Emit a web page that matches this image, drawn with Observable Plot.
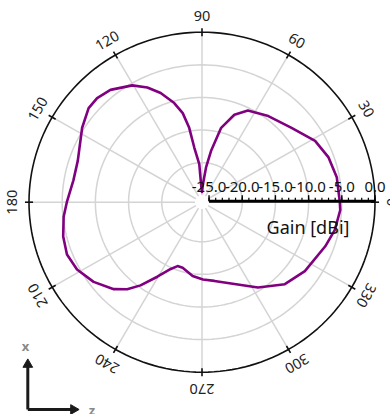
<!DOCTYPE html>
<html>
<head>
<meta charset="utf-8">
<script src="https://cdn.jsdelivr.net/npm/d3@7"></script>
<script src="https://cdn.jsdelivr.net/npm/@observablehq/plot@0.6"></script>
<style>
  html, body { margin: 0; padding: 0; background: #fff; }
  #chart { width: 390px; height: 414px; overflow: hidden; }
</style>
</head>
<body>
<div id="chart"></div>
<script>
// ---- data ----
const angleDeg = [0, 10.7, 19.8, 28.9, 40.2, 52.9, 63.8, 70, 75.8, 80.2, 83.5, 87.6, 90, 93, 94, 97.9, 99.6, 102, 105.4, 110.4, 115.1, 120.4, 128.7, 134.7, 139.8, 147.7, 155.6, 161.2, 170.2, 180, 186.1, 194.1, 201.5, 208.7, 216.8, 225.1, 229.8, 234, 239.5, 245.3, 249.4, 253.8, 262.9, 270.7, 278.8, 291.3, 302.8, 314.8, 325.7, 340, 348, 356.7];
const gainDbi  = [-5.3, -5.4, -5.8, -6.6, -8.4, -9.5, -10.4, -11.8, -14.3, -18.1, -20.7, -23.5, -24.5, -23.2, -20.2, -17.6, -14.5, -12.1, -10.3, -8.2, -6.65, -5.3, -4.0, -3.6, -3.7, -4.7, -5.8, -6.3, -6.4, -5.7, -5.1, -4.5, -4.2, -4.6, -5.67, -7.24, -8.6, -10.3, -12.8, -14.8, -15.6, -15.6, -14.65, -14.2, -13.85, -12.6, -10.5, -8.35, -7.3, -6.3, -5.6, -5.2];
const ringLevels = [-20, -15, -10, -5];
const spokeAngles = [0, 30, 60, 90, 120, 150, 180, 210, 240, 270, 300, 330];
const angleLabels = ["0", "30", "60", "90", "120", "150", "180", "210", "240", "270", "300", "330"];
const radialTicks = [-25, -20, -15, -10, -5, 0];
const radialTickLabels = ["-25.0", "-20.0", "-15.0", "-10.0", "-5.0", "0.0"];
const radialTitle = "Gain [dBi]";
const iconLabels = ["x", "z"];

// ---- geometry ----
const W = 390, H = 414, CX = 201.5, CY = 201.7, RX = 173, RY = 170;
const r = d3.scaleLinear().domain([-25, 0]).range([7 / 172, 1]);
const rad = a => a * Math.PI / 180;
const px = u => (u - CX) / RX;   // pixel -> data (x)
const py = v => (CY - v) / RY;   // pixel -> data (y)
const polar = (a, rr) => ({x: rr * Math.cos(rad(a)), y: rr * Math.sin(rad(a))});

const curve = angleDeg.map((a, i) => ({a, g: gainDbi[i], ...polar(a, r(gainDbi[i]))}));
const circleSteps = d3.range(0, 360, 2);
const rings = ringLevels.flatMap(g => circleSteps.map(a => ({g, ...polar(a, r(g))})));
const outer = circleSteps.map(a => polar(a, 1));
const spokes = spokeAngles.map(a => ({a, p1: polar(a, r(-25)), p2: polar(a, 1)}));
const tickMarks = spokeAngles.map(a => ({a, p1: polar(a, 1 - 4 / 171), p2: polar(a, 1 + 4 / 171)}));
const labels = spokeAngles.map((a, i) => ({a, t: angleLabels[i], ...polar(a, 1 + 16 / 170)}));
const minor = d3.range(-25, 0.5, 1);
const font = "'Segoe UI', 'Noto Sans', 'Open Sans', sans-serif";

const iconLines = [
  {x1: px(27.3), y1: py(409), x2: px(27.3), y2: py(366)},
  {x1: px(27.3), y1: py(409), x2: px(71), y2: py(409)}
];
const iconHeads = [
  {x: px(27.3), y: py(364), rot: 0},
  {x: px(73), y: py(409), rot: 90}
];
const iconText = [
  {t: iconLabels[0], x: px(25), y: py(346.5)},
  {t: iconLabels[1], x: px(91.5), y: py(410)}
];

const plot = Plot.plot({
  width: W, height: H,
  marginTop: 0, marginRight: 0, marginBottom: 0, marginLeft: 0,
  x: {domain: [px(0), px(W)], range: [0, W], axis: null},
  y: {domain: [py(H), py(0)], range: [H, 0], axis: null},
  style: {fontFamily: font, background: "white", overflow: "hidden"},
  marks: [
    Plot.line(rings, {x: "x", y: "y", z: "g", curve: "linear-closed", stroke: "#d4d4d4", strokeWidth: 1.5}),
    Plot.link(spokes, {x1: d => d.p1.x, y1: d => d.p1.y, x2: d => d.p2.x, y2: d => d.p2.y, stroke: "#d4d4d4", strokeWidth: 1.5}),
    Plot.line(outer, {x: "x", y: "y", curve: "linear-closed", stroke: "#111", strokeWidth: 1.6}),
    Plot.link(tickMarks, {x1: d => d.p1.x, y1: d => d.p1.y, x2: d => d.p2.x, y2: d => d.p2.y, stroke: "#111", strokeWidth: 1.6}),
    Plot.text(labels, {x: "x", y: "y", text: "t", rotate: d => 90 - d.a, fontSize: 14.5, fill: "#222"}),
    Plot.line(curve, {x: "x", y: "y", curve: "linear-closed", stroke: "#800080", strokeWidth: 2.6, strokeLinejoin: "round"}),
    // radial axis bar
    Plot.link([0], {x1: r(-25), x2: r(0), y1: 0, y2: 0, dy: -1, stroke: "#000", strokeWidth: 3}),
    Plot.link(minor, {x1: d => r(d), x2: d => r(d), y1: 0, y2: 3.5 / RY, dy: -1, stroke: "#000", strokeWidth: 1.2}),
    Plot.link(radialTicks, {x1: d => r(d), x2: d => r(d), y1: 0, y2: 6 / RY, dy: -1, stroke: "#000", strokeWidth: 1.4}),
    Plot.text(radialTicks, {x: d => r(d), y: 0, text: (d, i) => radialTickLabels[i], dy: -15, fontSize: 15, fill: "#111"}),
    Plot.text([radialTitle], {x: px(307.5), y: py(228), text: d => d, fontSize: 18, fill: "#111"}),
    // axes icon
    Plot.link(iconLines, {x1: "x1", y1: "y1", x2: "x2", y2: "y2", stroke: "#1a1a1a", strokeWidth: 3, strokeLinecap: "butt"}),
    Plot.dot(iconHeads, {x: "x", y: "y", symbol: "triangle", rotate: "rot", r: 3.6, fill: "#1a1a1a", stroke: "#1a1a1a", strokeWidth: 1, strokeLinejoin: "round"}),
    Plot.text(iconText, {x: "x", y: "y", text: "t", fontSize: 13, fontWeight: "bold", fill: "#888"})
  ]
});
document.getElementById("chart").appendChild(plot);
</script>
</body>
</html>
